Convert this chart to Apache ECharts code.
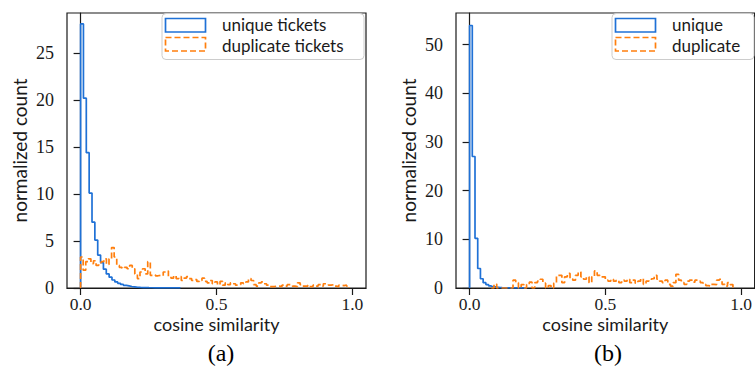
<!DOCTYPE html>
<html>
<head>
<meta charset="utf-8">
<script src="https://cdn.jsdelivr.net/npm/echarts@6/dist/echarts.min.js"></script>
<style>
html,body{margin:0;padding:0;background:#fff;}
#chart{width:755px;height:366px;}
</style>
</head>
<body>
<div id="chart"></div>
<script>
// ---------- data ----------
const xTickValues = [0, 0.5, 1.0];
const yTicksA = [0, 5, 10, 15, 20, 25];
const yTicksB = [0, 10, 20, 30, 40, 50];

// (a) unique tickets histogram
const uniqueA_start = 0;
const uniqueA_binWidth = 0.0105;
const uniqueA = [28.1, 20.2, 14.4, 10.1, 7.0, 5.1, 3.5, 2.7, 2.0, 1.5, 1.15, 0.85, 0.65, 0.5, 0.38,
  0.28, 0.22, 0.16, 0.12, 0.08, 0.06, 0.05, 0.04, 0.03, 0.025, 0.02, 0.015, 0.012, 0.01, 0.01,
  0.008, 0.006, 0.005, 0.004, 0.003];

// (a) duplicate tickets histogram
const dupA_start = 0;
const dupA_binWidth = 0.0095;
const dupA = [3.3, 1.9, 2.8, 3.1, 2.6, 2.9, 2.4, 2.7, 2.8, 3.1, 2.5, 3.1, 4.3, 3.3, 2.4,
  2.2, 2.1, 2.2, 2.05, 2.4, 2.05, 1.5, 1.0, 1.7, 2.05, 1.5, 2.8, 1.35, 1.4, 1.3,
  1.35, 1.3, 1.7, 1.8, 1.2, 1.05, 1.3, 1.0, 1.2, 0.8, 1.05, 1.2, 1.0, 0.8, 0.9,
  0.7, 0.8, 1.05, 0.7, 0.55, 0.8, 0.45, 0.65, 0.35, 0.7,
  0.3, 0.55, 0.35, 0.55, 0.45, 0.3, 0.35, 0.55, 0.45, 0.65, 1.0, 0.8, 0.35, 0.2, 0.55,
  0.65, 0.45, 0.3, 0.15, 0.15, 0.2, 0.2, 0.15, 0.3, 0.2, 0.35, 0.35, 0.2, 0.15, 0.55,
  0.35, 0.2, 0.2, 0.3, 0.15, 0.3, 0.2, 0.35, 0.2, 0.45, 0.45, 0.3, 0.35, 0.2, 0.15,
  0.3, 0.25, 0.3, 0.2];

// (b) unique histogram
const uniqueB_start = 0;
const uniqueB_binWidth = 0.01;
const uniqueB = [53.9, 27.0, 10.2, 4.0, 1.9, 1.1, 0.7, 0.45, 0.3, 0.18, 0.12, 0.08, 0.05, 0.04,
  0.03, 0.02, 0.02, 0.01, 0.01, 0.01, 0.005];

// (b) duplicate histogram
const dupB_start = 0.08;
const dupB_binWidth = 0.01;
const dupB = [0, 0.8, 0, 0, 0, 0, 0, 0,
  1.6, 1.1, 0, 0.7, 0, 0.7, 1.2, 0, 1.1, 1.4, 1.8, 1.0, 0, 0.5, 0, 1.0, 2.6, 2.6, 1.1, 2.3,
  3.0, 1.9, 1.6, 2.6, 3.3, 2.3, 1.8, 2.3, 1.1, 2.3, 3.5, 2.6, 2.3, 2.3,
  1.6, 1.4, 1.8, 1.4, 1.6, 1.1, 1.6, 1.4, 1.8, 1.1, 1.6, 1.0, 1.4, 1.9, 0.75,
  1.4, 1.6, 1.9, 2.6, 1.8, 1.4, 1.1, 1.6, 0.75, 0.4, 1.1, 2.8, 1.6, 1.1, 0.75,
  1.4, 1.6, 1.2, 1.6, 1.4, 1.1, 0.75, 0.5, 0.4, 0.75, 0.7, 1.6, 1.8, 0.75, 0.4, 1.1, 0.7];

// ---------- styling ----------
const BLUE = '#1f71d6';
const ORANGE = '#ff7f0e';
const INK = '#1a1a1a';
const SANS = 'Lato';
const SERIF = 'Liberation Serif';

function stepData(start, width, vals) {
  const pts = [[start, 0]];
  vals.forEach((v, i) => pts.push([start + i * width, v]));
  const end = start + vals.length * width;
  pts.push([end, vals[vals.length - 1]]);
  pts.push([end, 0]);
  return pts;
}

function xAxisCfg(gridIndex) {
  return {
    gridIndex, type: 'value', min: -0.05, max: 1.05,
    axisLine: { show: true, lineStyle: { color: INK, width: 1.2 } },
    axisTick: { show: true, customValues: xTickValues, length: 7, lineStyle: { color: INK, width: 1.2 } },
    axisLabel: { customValues: xTickValues, formatter: v => v.toFixed(1), margin: 8,
      fontFamily: SERIF, fontSize: 17.5, lineHeight: 16, color: INK },
    splitLine: { show: false },
    name: 'cosine similarity', nameLocation: 'middle', nameGap: 27, nameMoveOverlap: false,
    nameTextStyle: { fontFamily: SANS, fontSize: 18, color: INK, lineHeight: 18 }
  };
}
function yAxisCfg(gridIndex, max, ticks) {
  return {
    gridIndex, type: 'value', min: 0, max: max,
    axisLine: { show: true, lineStyle: { color: INK, width: 1.2 } },
    axisTick: { show: true, customValues: ticks, length: 7, lineStyle: { color: INK, width: 1.2 } },
    axisLabel: { customValues: ticks, margin: 13, fontFamily: SERIF, fontSize: 18, color: INK },
    splitLine: { show: false },
    name: 'normalized count', nameLocation: 'middle', nameGap: 38, nameMoveOverlap: false,
    nameTextStyle: { fontFamily: SANS, fontSize: 19, color: INK, lineHeight: 19 }
  };
}
function stepSeries(name, xi, data, color, dashed) {
  return {
    name, type: 'line', step: 'end', xAxisIndex: xi, yAxisIndex: xi,
    data, showSymbol: false, symbol: 'none', animation: false,
    lineStyle: { color, width: 1.7, type: dashed ? [6, 3] : 'solid' },
    itemStyle: { color }
  };
}
function legendGraphic(x, y, w, h, handleX, textX, labels) {
  return {
    type: 'group', z: 100, children: [
      { type: 'rect', shape: { x, y, width: w, height: h, r: 4 },
        style: { fill: 'rgba(255,255,255,0.85)', stroke: '#cccccc', lineWidth: 1 } },
      { type: 'rect', shape: { x: handleX, y: 18.5, width: 40, height: 13.5 },
        style: { fill: 'none', stroke: BLUE, lineWidth: 1.7 } },
      { type: 'rect', shape: { x: handleX, y: 37.5, width: 40, height: 13.5 },
        style: { fill: 'none', stroke: ORANGE, lineWidth: 1.7, lineDash: [6, 3] } },
      { type: 'text', x: textX, y: 24.5, style: { text: labels[0], fontFamily: SANS, fontSize: 17,
        lineHeight: 16, fill: INK, align: 'left', verticalAlign: 'middle' } },
      { type: 'text', x: textX, y: 45, style: { text: labels[1], fontFamily: SANS, fontSize: 17,
        lineHeight: 16, fill: INK, align: 'left', verticalAlign: 'middle' } }
    ]
  };
}

const chart = echarts.init(document.getElementById('chart'), null, { renderer: 'svg' });
chart.setOption({
  backgroundColor: '#ffffff',
  animation: false,
  grid: [
    { left: 67, top: 13, width: 299, height: 275, show: true, borderColor: INK, borderWidth: 1.2, backgroundColor: 'transparent' },
    { left: 456, top: 13, width: 301, height: 275, show: true, borderColor: INK, borderWidth: 1.2, backgroundColor: 'transparent' }
  ],
  xAxis: [xAxisCfg(0), xAxisCfg(1)],
  yAxis: [yAxisCfg(0, 29.26, yTicksA), yAxisCfg(1, 56.47, yTicksB)],
  series: [
    stepSeries('unique tickets', 0, stepData(uniqueA_start, uniqueA_binWidth, uniqueA), BLUE, false),
    stepSeries('duplicate tickets', 0, stepData(dupA_start, dupA_binWidth, dupA), ORANGE, true),
    stepSeries('unique', 1, stepData(uniqueB_start, uniqueB_binWidth, uniqueB), BLUE, false),
    stepSeries('duplicate', 1, stepData(dupB_start, dupB_binWidth, dupB), ORANGE, true)
  ],
  graphic: [
    legendGraphic(162, 13.5, 202, 46, 165.5, 222, ['unique tickets', 'duplicate tickets']),
    legendGraphic(612, 13.5, 142, 46, 615.5, 672, ['unique', 'duplicate']),
    { type: 'text', x: 221, y: 353, style: { text: '(a)', fontFamily: SERIF, fontSize: 24, fill: '#000',
      align: 'center', verticalAlign: 'middle' } },
    { type: 'text', x: 608, y: 353, style: { text: '(b)', fontFamily: SERIF, fontSize: 24, fill: '#000',
      align: 'center', verticalAlign: 'middle' } }
  ]
});
</script>
</body>
</html>
